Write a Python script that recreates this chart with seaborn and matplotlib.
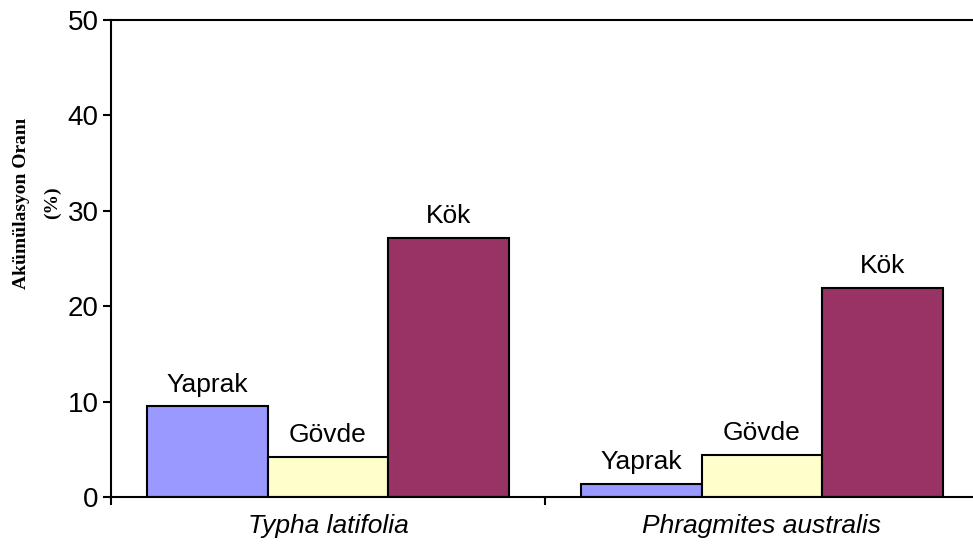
import pandas as pd
import matplotlib.pyplot as plt
import seaborn as sns

# values
species = ['Typha latifolia', 'Phragmites australis']
parts = ['Yaprak', 'Gövde', 'Kök']
yaprak = [9.5, 1.4]
govde = [4.2, 4.4]
kok = [27.2, 21.9]

df = pd.DataFrame({
    'Tür': species * 3,
    'Organ': [p for p in parts for _ in species],
    'Oran': yaprak + govde + kok,
})

palette = {'Yaprak': '#9999FF', 'Gövde': '#FFFFCC', 'Kök': '#993366'}

sns.set_style('white')
plt.rcParams['font.family'] = ['Liberation Sans', 'DejaVu Sans']
plt.rcParams['text.color'] = 'black'
plt.rcParams['xtick.color'] = 'black'
plt.rcParams['ytick.color'] = 'black'
plt.rcParams['axes.labelcolor'] = 'black'

fig = plt.figure(figsize=(9.73, 5.45), dpi=100)
ax = fig.add_axes([111 / 973, 48 / 545, 868 / 973, 477 / 545])

sns.barplot(data=df, x='Tür', y='Oran', hue='Organ', hue_order=parts,
            palette=palette, width=0.834, edgecolor='black', linewidth=1.5,
            saturation=1, legend=False, ax=ax)

# label every bar with its organ name
for cont, name in zip(ax.containers, parts):
    ax.bar_label(cont, labels=[name] * len(cont), padding=7, fontsize=19,
                 color='black')

ax.set_ylim(0, 50)
ax.set_xlim(-0.5, 1.5)
ax.set_yticks(range(0, 51, 10))
ax.tick_params(axis='y', labelsize=20, length=6, width=1.5, direction='out',
               left=True, pad=3, colors='black')

ax.set_xticks([-0.5, 0.5, 1.5])
ax.set_xticklabels([])
ax.set_xticks([0, 1], minor=True)
ax.set_xticklabels(species, minor=True, fontsize=19, style='italic')
ax.tick_params(axis='x', which='major', length=6, width=1.5, direction='out',
               bottom=True, colors='black')
ax.tick_params(axis='x', which='minor', length=0, pad=12, colors='black')

ax.set_xlabel('')
ax.set_ylabel('')
for side in ['left', 'bottom', 'top']:
    ax.spines[side].set_visible(True)
    ax.spines[side].set_color('black')
    ax.spines[side].set_linewidth(1.5)
ax.spines['right'].set_visible(False)

fig.text(37 / 973, 1 - 203 / 545, 'Akümülasyon Oranı\n(%)', rotation=90,
         ha='center', va='center', multialignment='center', linespacing=2.0,
         fontsize=14, fontweight='bold', color='black',
         family=['Liberation Serif', 'DejaVu Serif'])

fig.savefig('out.png', dpi=100)
